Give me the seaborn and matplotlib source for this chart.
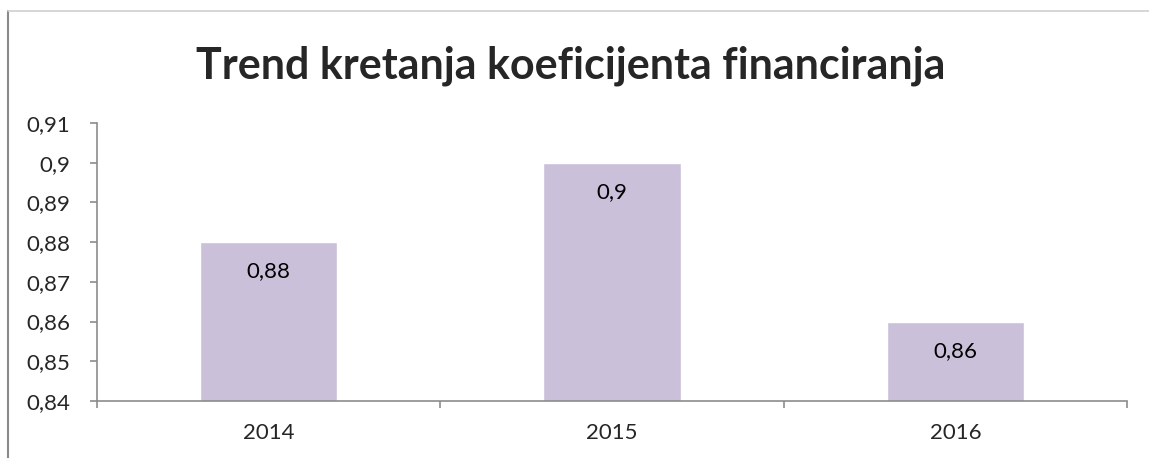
import matplotlib
matplotlib.use("Agg")
import matplotlib.pyplot as plt
from matplotlib.lines import Line2D
from matplotlib.ticker import FuncFormatter, FixedLocator
import seaborn as sns
import pandas as pd

# podaci
godine = ["2014", "2015", "2016"]
koeficijent = [0.88, 0.90, 0.86]
y_ticks = [0.84, 0.85, 0.86, 0.87, 0.88, 0.89, 0.90, 0.91]

sns.set_style("white")
plt.rcParams["font.family"] = ["Lato", "DejaVu Sans"]

df = pd.DataFrame({"godina": godine, "koef": koeficijent})

fig = plt.figure(figsize=(11.49, 4.58), dpi=100)
ax = fig.add_axes([0.0844, 0.1245, 0.8965, 0.607])

sns.barplot(data=df, x="godina", y="koef", order=godine, color="#cbc0da",
            width=0.4, saturation=1, ax=ax)

ax.set_ylim(0.84, 0.91)
ax.set_xlim(-0.5, 2.5)
ax.yaxis.set_major_locator(FixedLocator(y_ticks))

def fmt(v, pos=None):
    s = f"{v:.2f}".rstrip("0").rstrip(".")
    return s.replace(".", ",")

ax.yaxis.set_major_formatter(FuncFormatter(fmt))
ax.set_xlabel("")
ax.set_ylabel("")

for sp in ["top", "right"]:
    ax.spines[sp].set_visible(False)
for sp in ["left", "bottom"]:
    ax.spines[sp].set_color("#8c8c8c")
    ax.spines[sp].set_linewidth(1.2)

ax.tick_params(axis="y", direction="out", length=5, width=1.2, color="#8c8c8c",
               labelsize=16, pad=14, left=True)
ax.tick_params(axis="x", which="major", length=0, labelsize=16, pad=16)
ax.set_xticks([-0.5, 0.5, 1.5, 2.5], minor=True)
ax.tick_params(axis="x", which="minor", direction="out", length=5, width=1.2,
               color="#8c8c8c", bottom=True)

# oznake vrijednosti u stupcima
for i, v in enumerate(koeficijent):
    ax.annotate(fmt(v), (i, v), xytext=(0, -21), textcoords="offset points",
                ha="center", va="center", fontsize=16, color="#000000")

fig.text(0.4965, 1 - 78 / 458, "Trend kretanja koeficijenta financiranja",
         ha="center", va="baseline", fontsize=31, fontweight="bold")

# okvir grafikona
fig.add_artist(Line2D([8 / 1149, 8 / 1149], [0, 1 - 11 / 458],
                      transform=fig.transFigure, color="#8a8a8a", lw=1.5))
fig.add_artist(Line2D([8 / 1149, 1], [1 - 11 / 458, 1 - 11 / 458],
                      transform=fig.transFigure, color="#d0d0d0", lw=1.2))

fig.savefig("out.png", dpi=100)
